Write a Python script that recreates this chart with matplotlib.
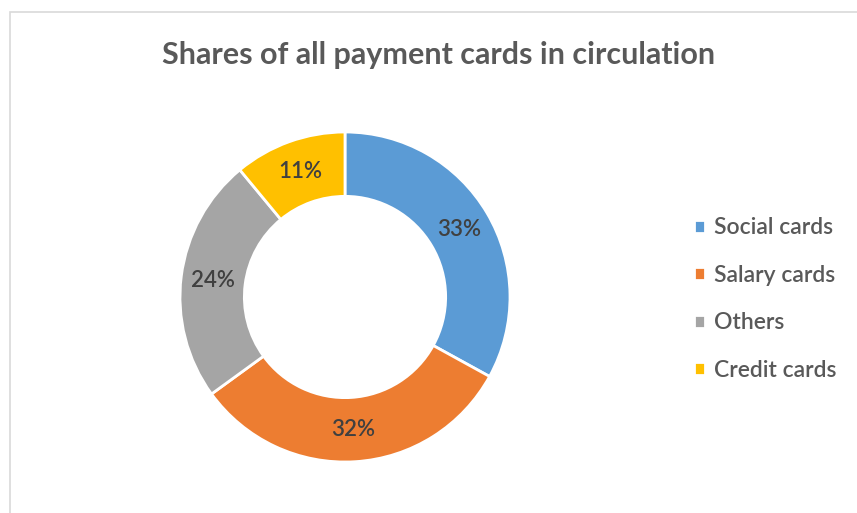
import matplotlib.pyplot as plt
from matplotlib.patches import Rectangle

plt.rcParams['font.family'] = ['Lato', 'DejaVu Sans']

labels = ['Social cards', 'Salary cards', 'Others', 'Credit cards']
shares = [33, 32, 24, 11]
colors = ['#5B9BD5', '#ED7D31', '#A5A5A5', '#FFC000']
title = 'Shares of all payment cards in circulation'

fig = plt.figure(figsize=(8.57, 5.13), dpi=100)
fig.patch.set_facecolor('white')

# thin chart-area frame
fig.patches.append(Rectangle((10 / 857, -0.1), 1.1, (513 - 12) / 513 + 0.1,
                             transform=fig.transFigure, fill=False,
                             edgecolor='#D9D9D9', linewidth=1.2))

ax = fig.add_axes([180 / 857, 51 / 513, 330 / 857, 330 / 513])
wedges, texts, autotexts = ax.pie(
    shares, colors=colors, startangle=90, counterclock=False, radius=1,
    autopct='%.0f%%', pctdistance=0.806,
    wedgeprops=dict(width=0.39, edgecolor='white', linewidth=2),
    textprops=dict(fontsize=16, color='#404040', fontweight='semibold'))
ax.set_xlim(-1, 1)
ax.set_ylim(-1, 1)
ax.set_aspect('equal')

fig.text(439 / 857, 1 - 55 / 513, title, ha='center', va='center',
         fontsize=22, fontweight='bold', color='#595959')

fig.legend(wedges, labels, loc='center left', bbox_to_anchor=(673 / 857, 1 - 299 / 513),
           frameon=False, prop=dict(size=16.5, weight='semibold'), labelcolor='#595959',
           handlelength=0.5, handleheight=0.5, handletextpad=0.4,
           labelspacing=1.15)

fig.savefig('out.png', dpi=100)
